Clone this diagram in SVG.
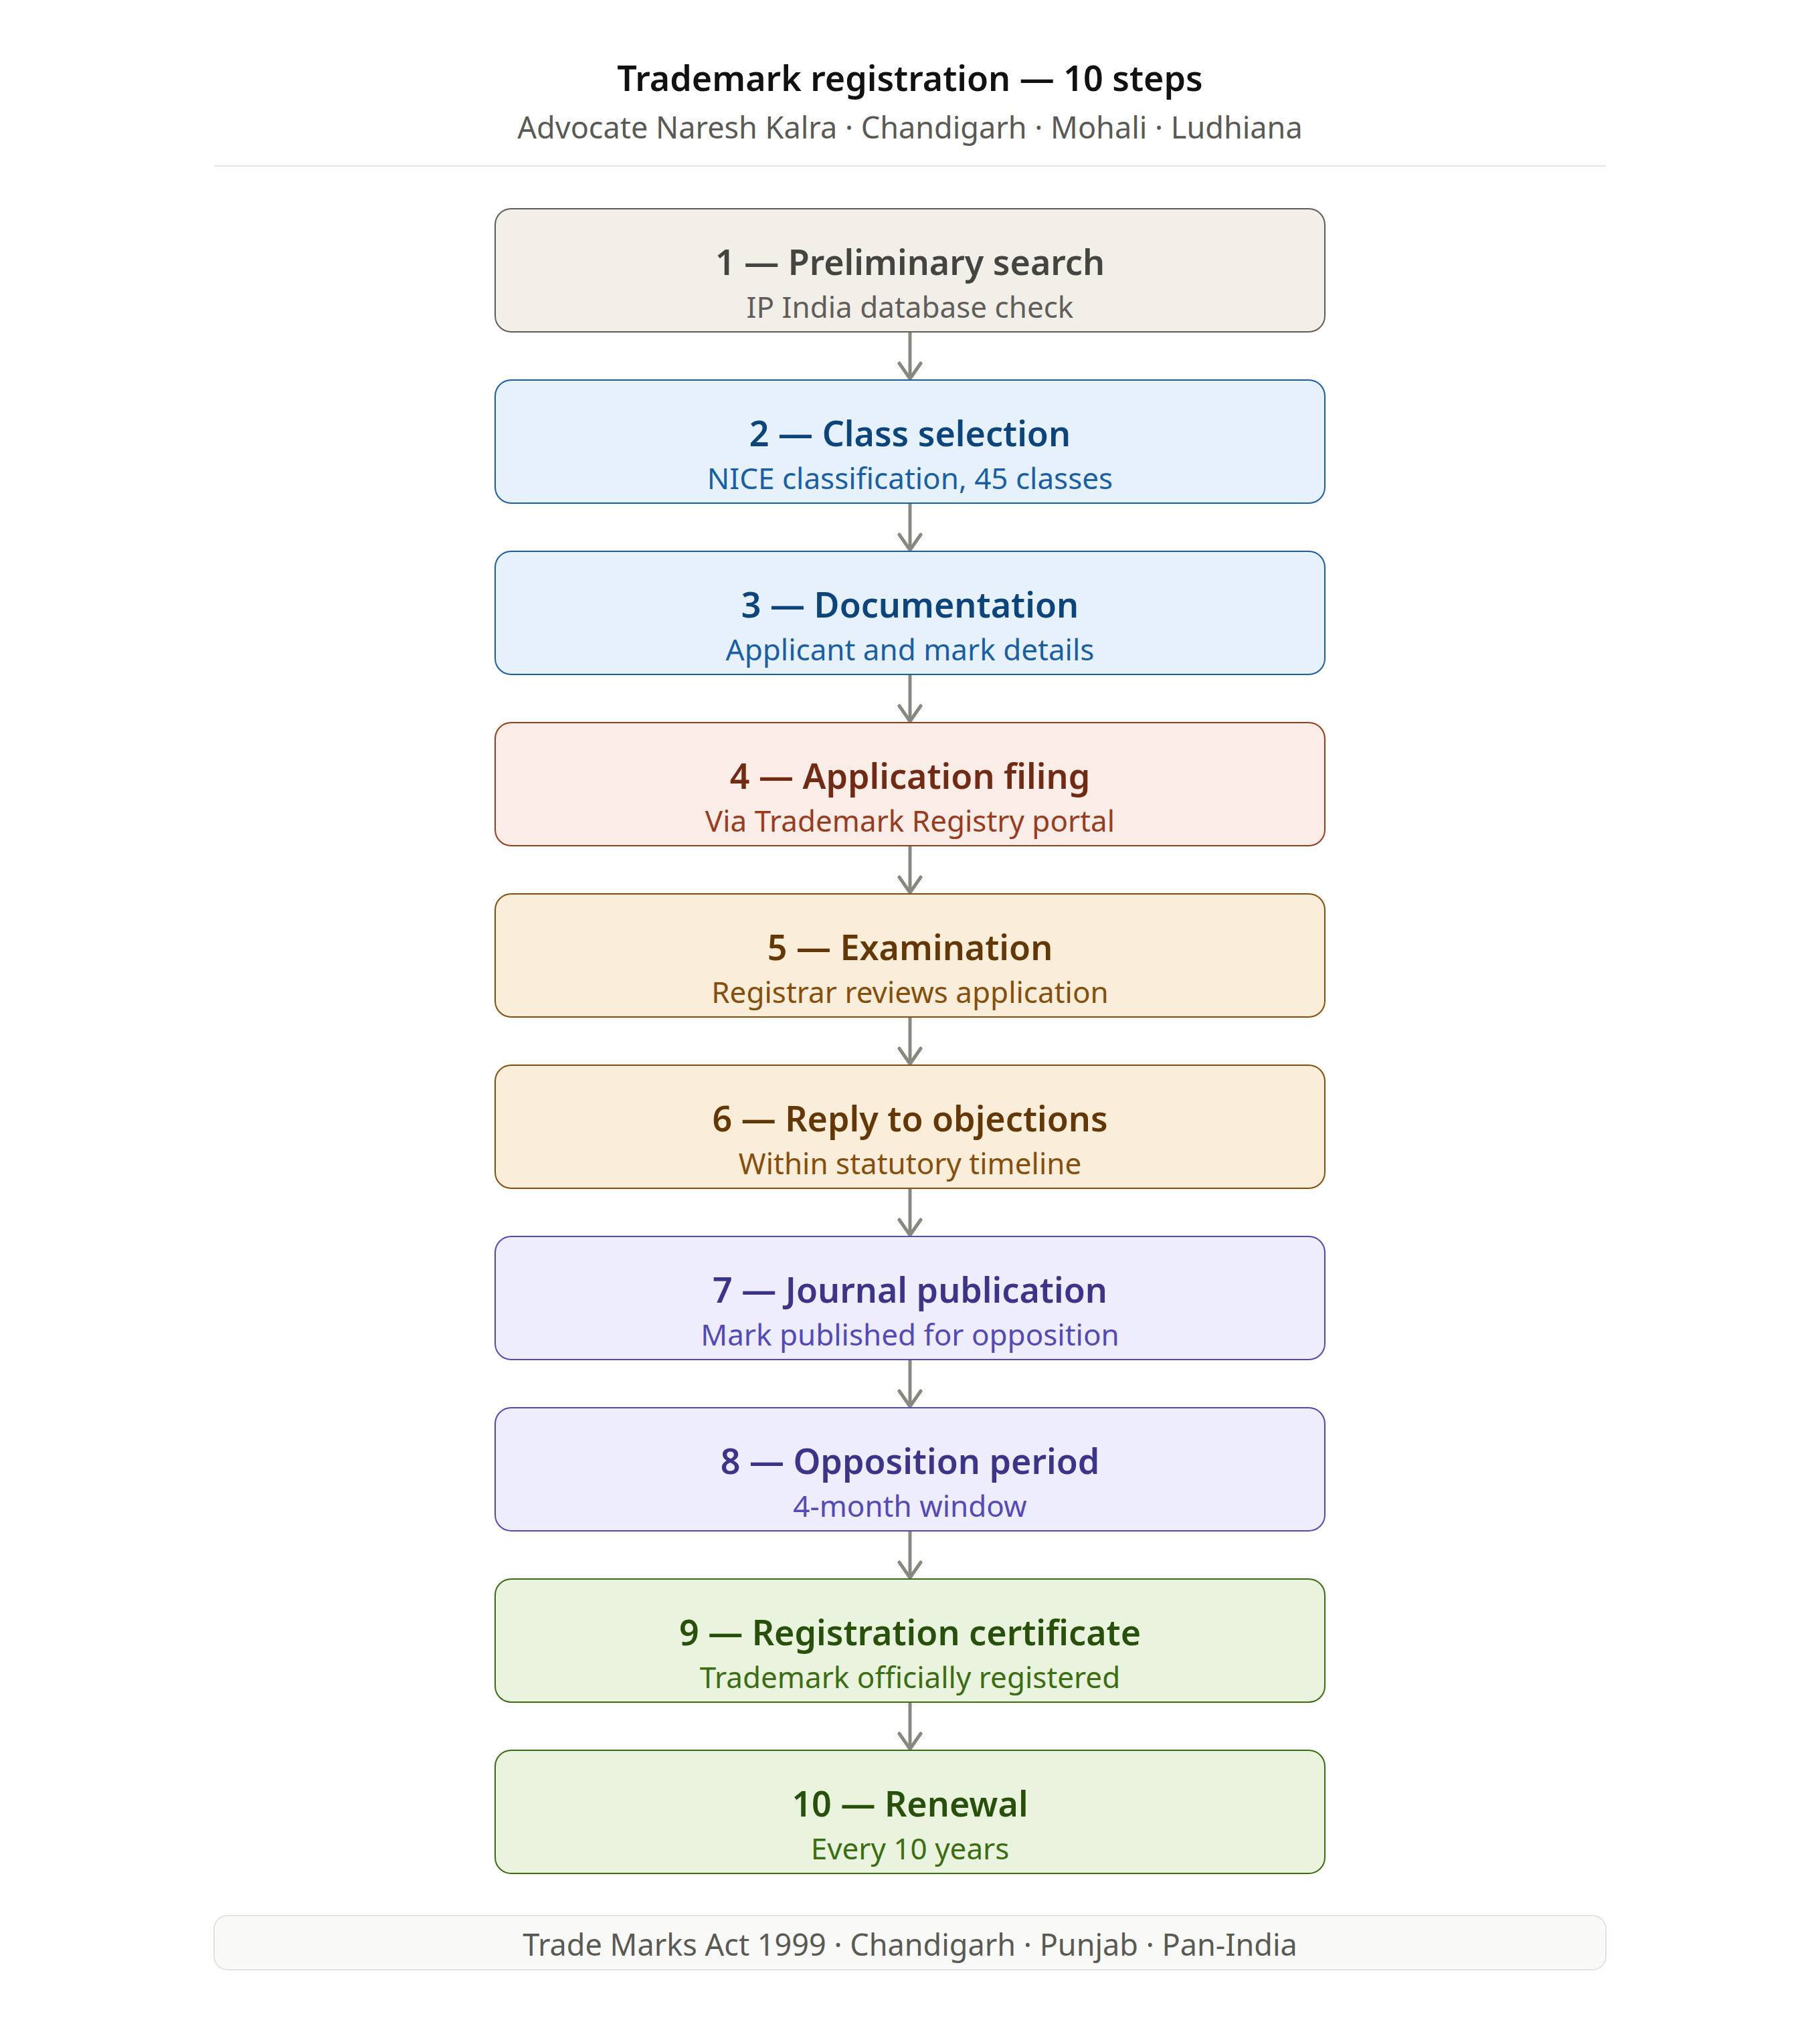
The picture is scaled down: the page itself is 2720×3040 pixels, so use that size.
<svg xmlns="http://www.w3.org/2000/svg" width="2720" height="3040" viewBox="0 0 2720 3040">
<style>
text{font-family:"Noto Sans","Liberation Sans",sans-serif;text-anchor:middle}
.t{font-size:52px;font-weight:600;fill:#111}
.st{font-size:45px;fill:#5a5a55}
.nt{font-size:52px;font-weight:600}
.ns{font-size:44px}
.box{stroke-width:2}
.gray .box{fill:#f1efe8;stroke:#5f5e5a}.gray .nt{fill:#444441}.gray .ns{fill:#5f5e5a}
.blue .box{fill:#e6f1fb;stroke:#185fa5}.blue .nt{fill:#0c447c}.blue .ns{fill:#185fa5}
.coral .box{fill:#faece7;stroke:#993c1d}.coral .nt{fill:#712b13}.coral .ns{fill:#993c1d}
.amber .box{fill:#faeeda;stroke:#854f0b}.amber .nt{fill:#633806}.amber .ns{fill:#854f0b}
.purple .box{fill:#eeedfe;stroke:#534ab7}.purple .nt{fill:#3c3489}.purple .ns{fill:#534ab7}
.green .box{fill:#eaf3de;stroke:#3b6d11}.green .nt{fill:#27500a}.green .ns{fill:#3b6d11}
.edge{stroke:#888780;stroke-width:5;fill:none;marker-end:url(#arr)}
</style>
<defs>
<marker id="arr" markerUnits="userSpaceOnUse" markerWidth="44" markerHeight="44" refX="36" refY="22" orient="auto" viewBox="0 0 44 44">
<path d="M13 6 L36 22 L13 38" fill="none" stroke="#888780" stroke-width="5" stroke-linecap="round" stroke-linejoin="round"/>
</marker>
</defs>
<rect width="2720" height="3040" fill="#ffffff"/>
<g id="header">
<text class="t" x="1360" y="136">Trademark registration — 10 steps</text>
<text class="st" x="1360" y="207">Advocate Naresh Kalra · Chandigarh · Mohali · Ludhiana</text>
<line x1="320" y1="248" x2="2400" y2="248" stroke="#e5e5e3" stroke-width="2"/>
</g>
<g id="connectors">
<line class="edge" x1="1360" y1="496" x2="1360" y2="566"/>
<line class="edge" x1="1360" y1="752" x2="1360" y2="822"/>
<line class="edge" x1="1360" y1="1008" x2="1360" y2="1078"/>
<line class="edge" x1="1360" y1="1264" x2="1360" y2="1334"/>
<line class="edge" x1="1360" y1="1520" x2="1360" y2="1590"/>
<line class="edge" x1="1360" y1="1776" x2="1360" y2="1846"/>
<line class="edge" x1="1360" y1="2032" x2="1360" y2="2102"/>
<line class="edge" x1="1360" y1="2288" x2="1360" y2="2358"/>
<line class="edge" x1="1360" y1="2544" x2="1360" y2="2614"/>
</g>
<g id="n1" class="gray"><rect class="box" x="740" y="312" width="1240" height="184" rx="24"/><text class="nt" x="1360" y="411">1 — Preliminary search</text><text class="ns" x="1360" y="475">IP India database check</text></g>
<g id="n2" class="blue"><rect class="box" x="740" y="568" width="1240" height="184" rx="24"/><text class="nt" x="1360" y="667">2 — Class selection</text><text class="ns" x="1360" y="731">NICE classification, 45 classes</text></g>
<g id="n3" class="blue"><rect class="box" x="740" y="824" width="1240" height="184" rx="24"/><text class="nt" x="1360" y="923">3 — Documentation</text><text class="ns" x="1360" y="987">Applicant and mark details</text></g>
<g id="n4" class="coral"><rect class="box" x="740" y="1080" width="1240" height="184" rx="24"/><text class="nt" x="1360" y="1179">4 — Application filing</text><text class="ns" x="1360" y="1243">Via Trademark Registry portal</text></g>
<g id="n5" class="amber"><rect class="box" x="740" y="1336" width="1240" height="184" rx="24"/><text class="nt" x="1360" y="1435">5 — Examination</text><text class="ns" x="1360" y="1499">Registrar reviews application</text></g>
<g id="n6" class="amber"><rect class="box" x="740" y="1592" width="1240" height="184" rx="24"/><text class="nt" x="1360" y="1691">6 — Reply to objections</text><text class="ns" x="1360" y="1755">Within statutory timeline</text></g>
<g id="n7" class="purple"><rect class="box" x="740" y="1848" width="1240" height="184" rx="24"/><text class="nt" x="1360" y="1947">7 — Journal publication</text><text class="ns" x="1360" y="2011">Mark published for opposition</text></g>
<g id="n8" class="purple"><rect class="box" x="740" y="2104" width="1240" height="184" rx="24"/><text class="nt" x="1360" y="2203">8 — Opposition period</text><text class="ns" x="1360" y="2267">4-month window</text></g>
<g id="n9" class="green"><rect class="box" x="740" y="2360" width="1240" height="184" rx="24"/><text class="nt" x="1360" y="2459">9 — Registration certificate</text><text class="ns" x="1360" y="2523">Trademark officially registered</text></g>
<g id="n10" class="green"><rect class="box" x="740" y="2616" width="1240" height="184" rx="24"/><text class="nt" x="1360" y="2715">10 — Renewal</text><text class="ns" x="1360" y="2779">Every 10 years</text></g>
<g id="footer">
<rect x="320" y="2863" width="2080" height="81" rx="20" fill="#f9f9f7" stroke="#e3e3e0" stroke-width="2"/>
<text class="st" x="1360" y="2923">Trade Marks Act 1999 · Chandigarh · Punjab · Pan-India</text>
</g>
</svg>
